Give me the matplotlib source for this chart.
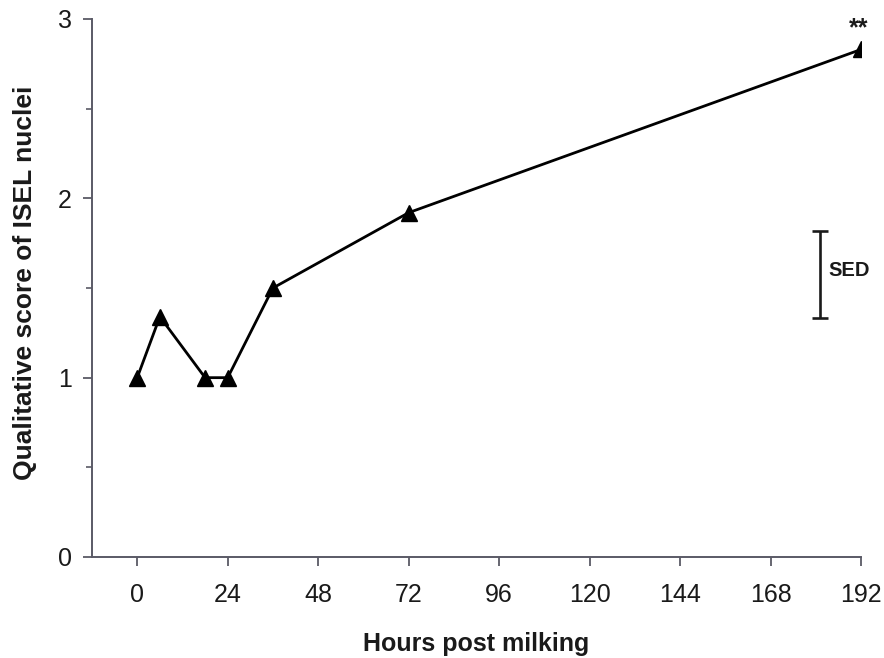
import matplotlib.pyplot as plt
plt.rcParams['font.family'] = ['Liberation Sans', 'DejaVu Sans']

hours = [0, 6, 18, 24, 36, 72, 192]
score = [1.0, 1.34, 1.0, 1.0, 1.5, 1.92, 2.83]
sed_x = 181
sed_low, sed_high = 1.33, 1.82
xticks = [0, 24, 48, 72, 96, 120, 144, 168, 192]

fig = plt.figure(figsize=(8.84, 6.58), dpi=100)
ax = fig.add_axes([92/884, 101/658, 769/884, 538/658])

ax.plot(hours, score, color='black', lw=2, marker='^', markersize=11, zorder=3)

# SED bar
mid = (sed_low + sed_high) / 2
ax.errorbar([sed_x], [mid], yerr=[(sed_high - sed_low) / 2], fmt='none',
            ecolor='#1a1a1a', elinewidth=1.9, capsize=6, capthick=1.9)
ax.text(sed_x + 2.3, 1.6, 'SED', fontsize=14.5, fontweight='bold', va='center', ha='left', color='#1a1a1a')
ax.text(191.5, 2.88, '**', fontsize=18, fontweight='bold', ha='center', va='bottom', color='#1a1a1a')

ax.set_xlim(-12, 192)
ax.set_ylim(0, 3)
ax.set_xticks(xticks)
ax.set_yticks([0, 1, 2, 3])
ax.set_yticks([0.5, 1.5, 2.5], minor=True)

for s in ['top', 'right']:
    ax.spines[s].set_visible(False)
for s in ['left', 'bottom']:
    ax.spines[s].set_color('#5a5a66')
    ax.spines[s].set_linewidth(1.4)

ax.tick_params(axis='both', which='major', length=6.5, width=1.3, color='#5a5a66',
               labelsize=18, labelcolor='#1a1a1a')
ax.tick_params(axis='x', pad=12)
ax.tick_params(axis='y', pad=8)
ax.tick_params(axis='y', which='minor', length=4, width=1.2, color='#5a5a66')

ax.set_xlabel('Hours post milking', fontsize=18, fontweight='bold', labelpad=18, color='#1a1a1a')
ax.set_ylabel('Qualitative score of ISEL nuclei', fontsize=19, fontweight='bold', labelpad=12, color='#1a1a1a')
ax.yaxis.set_label_coords(-0.071, 0.51)

fig.savefig('out.png', dpi=100)
